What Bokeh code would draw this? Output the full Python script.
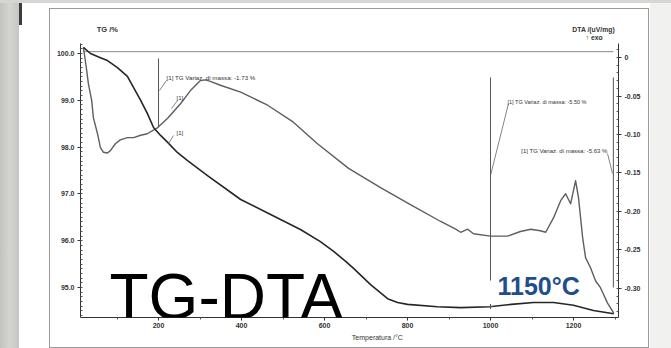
from bokeh.plotting import figure
from bokeh.models import LinearAxis, Range1d, FixedTicker, Label, Spacer
from bokeh.layouts import column, row
from bokeh.embed import file_html
from bokeh.resources import INLINE

# ---------------- data ----------------
tg_temp = [19, 36, 60, 77, 101, 125, 140, 157, 173, 188, 205, 222, 246, 270, 318, 398, 470,
           542, 590, 622, 651, 670, 711, 752, 776, 800, 872, 928, 998, 1050, 1104, 1152,
           1200, 1248, 1297]
tg_mass = [100.13, 100.00, 99.91, 99.85, 99.70, 99.51, 99.27, 99.00, 98.72, 98.42, 98.25,
           98.10, 97.88, 97.71, 97.39, 96.88, 96.56, 96.24, 95.98, 95.77, 95.56, 95.41,
           95.06, 94.76, 94.68, 94.64, 94.59, 94.57, 94.59, 94.64, 94.68, 94.68, 94.62,
           94.51, 94.44]

dta_temp = [19, 26, 31, 39, 43, 53, 60, 67, 77, 84, 96, 108, 125, 140, 157, 173, 198, 222,
            253, 277, 301, 313, 325, 349, 398, 463, 525, 583, 658, 735, 807, 880, 916, 928,
            945, 959, 1000, 1041, 1072, 1097, 1120, 1133, 1152, 1169, 1181, 1193, 1205, 1212,
            1222, 1229, 1241, 1253, 1265, 1282, 1297]
dta_signal = [0.013, -0.013, -0.034, -0.056, -0.078, -0.099, -0.117, -0.123, -0.124, -0.121,
              -0.112, -0.107, -0.104, -0.104, -0.101, -0.099, -0.091, -0.079, -0.060, -0.043,
              -0.030, -0.029, -0.031, -0.036, -0.045, -0.062, -0.084, -0.112, -0.144, -0.169,
              -0.191, -0.213, -0.223, -0.227, -0.223, -0.229, -0.232, -0.232, -0.226, -0.223,
              -0.225, -0.227, -0.208, -0.186, -0.177, -0.190, -0.160, -0.182, -0.234, -0.260,
              -0.273, -0.290, -0.299, -0.319, -0.332]

baseline_tg = 100.04
step_temps = [200, 1000, 1296]
step_labels = ["[1] TG Variaz. di massa: -1.73 %",
               "[1] TG Variaz. di massa: -5.50 %",
               "[1] TG Variaz. di massa: -5.63 %"]

x_ticks = [200, 400, 600, 800, 1000, 1200]
x_minor = [100, 300, 500, 700, 900, 1100, 1300]
tg_ticks = [95.0, 96.0, 97.0, 98.0, 99.0, 100.0]
dta_ticks = [0.0, -0.05, -0.10, -0.15, -0.20, -0.25, -0.30]
dta_tick_labels = ["0", "-0.05", "-0.10", "-0.15", "-0.20", "-0.25", "-0.30"]

# ---------------- layout (page pixel geometry) ----------------
BOX_L, BOX_R, BOX_T, BOX_B = 50, 648, 9, 347
FR_L, FR_R, FR_T, FR_B = 80, 618, 43, 317
FOOT_T = 333
X0, X1 = 12.0, 1308.4
Y0, Y1 = 94.359, 100.214
D0, D1 = -0.3377, 0.0182
FONT = "Liberation Sans"


def tx(px):
    return X0 + (px - FR_L) * (X1 - X0) / (FR_R - FR_L)


def ty(py):
    return Y1 - (py - FR_T) * (Y1 - Y0) / (FR_B - FR_T)


def lab(fig, x, y, text, size, color="#333333", style="normal", align="left",
        baseline="middle"):
    fig.add_layout(Label(x=x, y=y, text=text, text_font=FONT,
                         text_font_size=f"{size}px", text_font_style=style,
                         text_color=color, text_align=align, text_baseline=baseline))


def blank(h, top, bottom):
    f = figure(width=BOX_R - BOX_L, height=h, output_backend="svg", toolbar_location=None,
               x_range=Range1d(BOX_L, BOX_R), y_range=Range1d(bottom, top),
               x_axis_type=None, y_axis_type=None,
               min_border_left=0, min_border_right=0, min_border_top=0, min_border_bottom=0)
    f.outline_line_color = None
    f.background_fill_color = "white"
    f.border_fill_color = "white"
    f.grid.visible = False
    return f


# header with axis titles
hdr = blank(FR_T - BOX_T, BOX_T, FR_T)
lab(hdr, 68, 29, "TG /%", 7.5, style="bold")
lab(hdr, 644, 29, "DTA /(uV/mg)", 6.8, style="bold", align="right")
lab(hdr, 621, 37, "\u2191 exo", 6.8, style="bold", align="center")

# footer with x title
ftr = blank(BOX_B - FOOT_T, FOOT_T, BOX_B)
lab(ftr, 380, 337, "Temperatura /\u00b0C", 7, align="center")

# main chart
p = figure(width=BOX_R - BOX_L, height=FOOT_T - FR_T, output_backend="svg",
           toolbar_location=None,
           x_range=Range1d(X0, X1), y_range=Range1d(Y0, Y1),
           min_border_left=FR_L - BOX_L, min_border_right=BOX_R - FR_R,
           min_border_top=0, min_border_bottom=FOOT_T - FR_B)
p.extra_y_ranges = {"dta": Range1d(D0, D1)}
p.outline_line_color = None
p.grid.visible = False
p.background_fill_color = "white"
p.border_fill_color = "white"


def style_axis(ax):
    ax.axis_line_color = "#333333"
    ax.major_tick_line_color = "#333333"
    ax.minor_tick_line_color = "#555555"
    ax.major_tick_out = 3
    ax.major_tick_in = 0
    ax.minor_tick_out = 0
    ax.minor_tick_in = 2
    ax.major_label_text_font = FONT
    ax.major_label_text_font_size = "7px"
    ax.major_label_text_font_style = "bold"
    ax.major_label_text_color = "#333333"


xa = p.xaxis[0]
xa.ticker = FixedTicker(ticks=x_ticks, minor_ticks=x_minor)
style_axis(xa)
xa.minor_tick_out = 2
xa.minor_tick_in = 0
xa.major_label_standoff = 2

ya = p.yaxis[0]
ya.ticker = FixedTicker(ticks=tg_ticks, minor_ticks=[round(94.4 + 0.1 * i, 1) for i in range(59)])
ya.major_label_overrides = {t: f"{t:.1f}" for t in tg_ticks}
style_axis(ya)
ya.major_label_standoff = 3

ra = LinearAxis(y_range_name="dta",
                ticker=FixedTicker(ticks=dta_ticks,
                                   minor_ticks=[round(-0.33 + 0.01 * i, 2) for i in range(35)]))
ra.major_label_overrides = dict(zip(dta_ticks, dta_tick_labels))
style_axis(ra)
ra.major_label_standoff = 3
p.add_layout(ra, "right")

# baseline at top
p.line([tg_temp[0], step_temps[-1]], [baseline_tg, baseline_tg], line_color="#8a8a8a", line_width=1)

# curves
p.line(dta_temp, dta_signal, y_range_name="dta", line_color="#5e5e5e", line_width=1.4,
       line_join="round")
p.line(tg_temp, tg_mass, line_color="#262626", line_width=1.6, line_join="round")

# step markers
ann = "#555555"
p.segment(x0=[step_temps[0], step_temps[1], step_temps[2]],
          y0=[ty(58), ty(77), ty(77)],
          x1=[step_temps[0], step_temps[1], step_temps[2]],
          y1=[ty(127), ty(280), ty(287)], line_color=ann, line_width=1)
p.scatter([step_temps[1]], [ty(306)], marker="cross", size=5, line_color=ann)

# leaders
p.segment(x0=[tx(166), tx(508), tx(607), tx(177), tx(173)],
          y0=[ty(80), ty(103), ty(153), ty(100), ty(135)],
          x1=[tx(159), tx(490), tx(612), tx(171), tx(168)],
          y1=[ty(90), ty(175), ty(173), ty(108), ty(143)],
          line_color="#666666", line_width=0.8)

lab(p, tx(166), ty(77), step_labels[0], 6.2)
lab(p, tx(507), ty(101), step_labels[1], 5.5)
lab(p, tx(607), ty(150), step_labels[2], 6.0, align="right")
lab(p, tx(176), ty(97), "[1]", 6)
lab(p, tx(176), ty(132), "[1]", 6)

lab(p, tx(109), ty(296), "TG-DTA", 64, color="#000000", baseline="alphabetic")
lab(p, tx(497), ty(285), "1150\u00b0C", 25, color="#1f4e8c", style="bold", baseline="alphabetic")

inner = column(hdr, p, ftr, spacing=0,
               styles={"outline": "1px solid #9a9a9a", "background": "white"})

bg = ("linear-gradient(#d6d6d3,#d6d6d3) 0 0/671px 3px no-repeat, "
      "linear-gradient(#3c3c3c,#3c3c3c) 19px 3px/3px 22px no-repeat, "
      "linear-gradient(90deg,#c2c2be,#d4d4d0,#c6c6c2) 0 0/19px 348px no-repeat, "
      "linear-gradient(#f1f1ef,#f1f1ef) 650px 0/21px 348px no-repeat, #ffffff")

page = row(Spacer(width=BOX_L, height=348),
           column(Spacer(width=BOX_R - BOX_L, height=BOX_T), inner,
                  Spacer(width=BOX_R - BOX_L, height=348 - BOX_B), spacing=0),
           Spacer(width=671 - BOX_R, height=348),
           spacing=0, styles={"background": bg})

open("out.html", "w").write(file_html(page, INLINE))
